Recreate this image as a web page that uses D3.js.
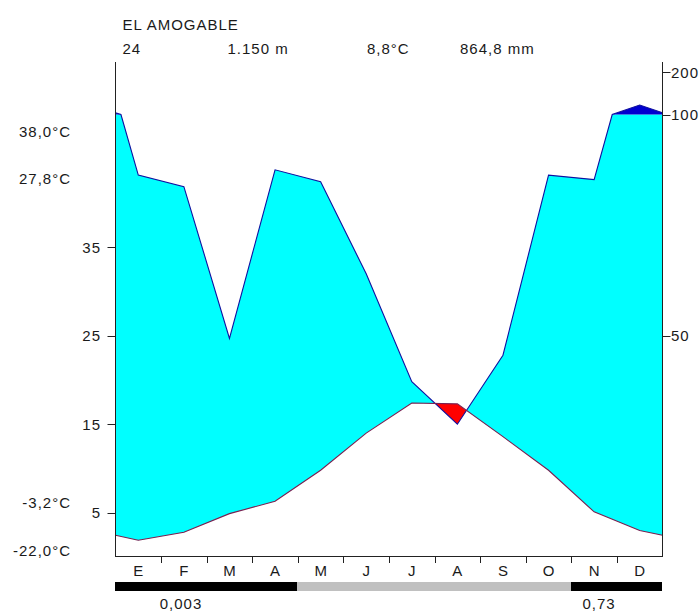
<!DOCTYPE html>
<html><head><meta charset="utf-8">
<script src="https://cdn.jsdelivr.net/npm/d3@7"></script>
<style>
html,body{margin:0;padding:0;background:#fff;}
svg{display:block;}
text{font-family:"Liberation Sans",Arial,sans-serif;font-size:15px;fill:#1a1a1a;letter-spacing:1px;}
</style></head><body>
<svg id="c" width="699" height="612"></svg>
<script>
const months = ["E","F","M","A","M","J","J","A","S","O","N","D"];
const temperature = [1.9, 2.8, 4.9, 6.3, 9.8, 14.0, 17.4, 17.3, 13.6, 9.8, 5.1, 3.0];
const precipitation = [86.3, 83.7, 49.4, 87.5, 84.8, 64.0, 39.6, 30.0, 45.6, 86.3, 85.3, 122.3];
const frostClass = [2,2,2,2,1,1,1,1,1,1,2,2];
const station = "EL AMOGABLE";
const headerInfo = ["24","1.150 m","8,8°C","864,8 mm"];
const extremeLabels = ["38,0°C","27,8°C","-3,2°C","-22,0°C"];
const tempTicks = [5,15,25,35];
const precipTicks = [50,100,200];
const frostLabels = ["0,003","0,73"];

const svg = d3.select("#c");
const x = d3.scaleLinear().domain([0,12]).range([115.5,662.5]);
const y = d3.scaleLinear().domain([0,50]).range([557,114.5]);
const pY = p => p <= 100 ? y(p/2) : y(50 + (p-100)/21);
const axisTop = 62;

const edgeT = (temperature[11]+temperature[0])/2;
const edgeP = (precipitation[11]+precipitation[0])/2;
const pts = [{x:0,t:edgeT,p:edgeP}];
months.forEach((m,i)=>pts.push({x:i+0.5,t:temperature[i],p:precipitation[i]}));
pts.push({x:12,t:edgeT,p:edgeP});

// precipitation polyline with crossings of 100 mm inserted
const pp = [];
pts.forEach((b,i)=>{
  if(i>0){
    const a = pts[i-1];
    if((a.p-100)*(b.p-100)<0){
      const f=(100-a.p)/(b.p-a.p);
      pp.push({x:a.x+f*(b.x-a.x), p:100});
    }
  }
  pp.push({x:b.x,p:b.p});
});

const defs = svg.append("defs");
defs.append("clipPath").attr("id","aboveT").append("path")
  .attr("d", d3.area().x(d=>x(d.x)).y0(0).y1(d=>y(d.t))(pts));
defs.append("clipPath").attr("id","belowT").append("path")
  .attr("d", d3.area().x(d=>x(d.x)).y0(d=>y(d.t)).y1(y(0)+2)(pts));

// humid (cyan)
svg.append("path")
  .attr("d", d3.area().x(d=>x(d.x)).y0(y(0)).y1(d=>pY(Math.min(d.p,100)))(pp))
  .attr("fill","#00ffff").attr("clip-path","url(#aboveT)");
// dry (red)
svg.append("path")
  .attr("d", d3.area().x(d=>x(d.x)).y0(0).y1(d=>pY(Math.min(d.p,100)))(pp))
  .attr("fill","#ff0000").attr("clip-path","url(#belowT)");
// very humid (>100 mm)
svg.append("path")
  .attr("d", d3.area().x(d=>x(d.x)).y0(y(50)).y1(d=>pY(Math.max(d.p,100)))(pp))
  .attr("fill","#0000d0");

// lines
svg.append("path").attr("d", d3.line().x(d=>x(d.x)).y(d=>pY(d.p))(pp))
  .attr("fill","none").attr("stroke","#1010a0").attr("stroke-width",1.1);
svg.append("path").attr("d", d3.line().x(d=>x(d.x)).y(d=>y(d.t))(pts))
  .attr("fill","none").attr("stroke","#7a1f4f").attr("stroke-width",1.1);

// axes
const ax = svg.append("g").attr("stroke","#222").attr("stroke-width",1).attr("fill","none");
ax.append("line").attr("x1",x(0)).attr("x2",x(0)).attr("y1",axisTop).attr("y2",y(0));
ax.append("line").attr("x1",x(12)).attr("x2",x(12)).attr("y1",axisTop).attr("y2",y(0));
ax.append("line").attr("x1",x(0)).attr("x2",x(12)).attr("y1",y(0)-0.5).attr("y2",y(0)-0.5);
d3.range(1,12).forEach(i=>{
  ax.append("line").attr("x1",Math.round(x(i))+0.5).attr("x2",Math.round(x(i))+0.5).attr("y1",y(0)).attr("y2",y(0)+6);
});
tempTicks.forEach(t=>{
  const yy = Math.round(y(t))+0.5;
  ax.append("line").attr("x1",x(0)-8).attr("x2",x(0)).attr("y1",yy).attr("y2",yy);
  svg.append("text").attr("x",101).attr("y",y(t)).attr("dy","0.35em").attr("text-anchor","end").text(t);
});
precipTicks.forEach(p=>{
  const yy = Math.round(pY(p))+0.5;
  ax.append("line").attr("x1",x(12)).attr("x2",x(12)+8).attr("y1",yy).attr("y2",yy);
  svg.append("text").attr("x",671).attr("y",pY(p)).attr("dy","0.35em").text(p);
});

// month labels
months.forEach((m,i)=>{
  svg.append("text").attr("x",x(i+0.5)+0.5).attr("y",576).attr("text-anchor","middle").text(m);
});

// frost bar (contiguous runs of same class)
const runs = [];
frostClass.forEach((c,i)=>{
  if(runs.length && runs[runs.length-1].c===c) runs[runs.length-1].end = i+1;
  else runs.push({c:c,start:i,end:i+1});
});
svg.append("g").attr("shape-rendering","crispEdges").selectAll("rect").data(runs).join("rect")
  .attr("x",d=>Math.round(x(d.start)-0.5)).attr("y",582)
  .attr("width",d=>Math.round(x(d.end)-0.5)-Math.round(x(d.start)-0.5)).attr("height",9)
  .attr("fill",d=>d.c===2 ? "#000" : "#c0c0c0");
svg.append("text").attr("x",181).attr("y",609).attr("text-anchor","middle").text(frostLabels[0]);
svg.append("text").attr("x",599).attr("y",609).attr("text-anchor","middle").text(frostLabels[1]);

// header
svg.append("text").attr("x",122.5).attr("y",30).text(station);
const hx = [122.5,227.5,367,460];
headerInfo.forEach((h,i)=>svg.append("text").attr("x",hx[i]).attr("y",53.5).text(h));

// extremes
const ey = [136.5,183.5,508,555.5];
extremeLabels.forEach((l,i)=>svg.append("text").attr("x",71).attr("y",ey[i]).attr("text-anchor","end").text(l));
</script>
</body></html>
